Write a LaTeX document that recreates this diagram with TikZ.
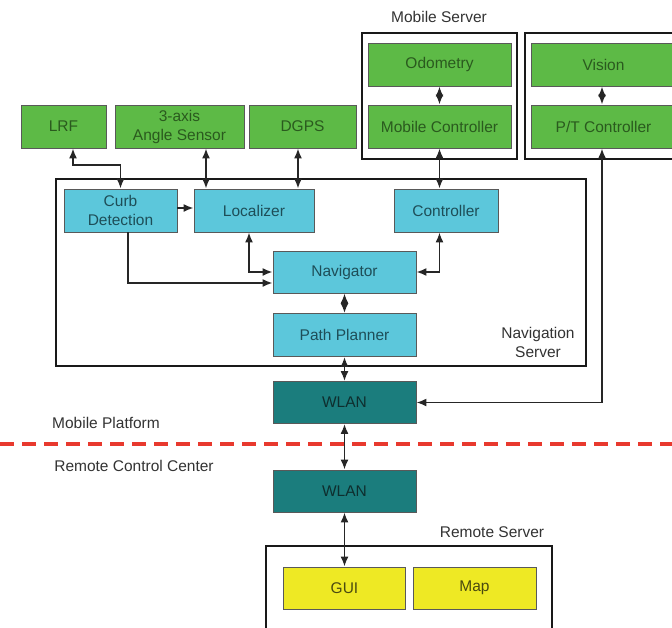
\documentclass[tikz,border=0pt]{standalone}
\usepackage{fontspec}
\setmainfont{Liberation Sans}
\usetikzlibrary{arrows.meta}
\definecolor{gbox}{HTML}{5DBA46}
\definecolor{gtext}{HTML}{2A5A1E}
\definecolor{cbox}{HTML}{5CC7DB}
\definecolor{ctext}{HTML}{1E4E58}
\definecolor{tbox}{HTML}{1B7D7D}
\definecolor{ttext}{HTML}{0E2E2E}
\definecolor{ybox}{HTML}{EEE924}
\definecolor{ytext}{HTML}{4A4A10}
\definecolor{lbl}{HTML}{333333}
\definecolor{dashred}{HTML}{E8392E}
\tikzset{
  txt/.style={font=\fontsize{15.5}{19}\selectfont, align=center},
  basebox/.style={txt, draw=black!65, line width=0.8pt, inner sep=0pt, minimum height=43pt},
  greenbox/.style={basebox, fill=gbox, text=gtext},
  cyanbox/.style={basebox, fill=cbox, text=ctext},
  tealbox/.style={basebox, fill=tbox, text=ttext},
  yellowbox/.style={basebox, fill=ybox, text=ytext},
  frame/.style={draw=black!90, line width=2.6pt},
  lab/.style={txt, text=lbl},
  tip/.style={},
  dbl/.style={line width=1.8pt, draw=black!85, {Latex[length=10pt,width=8pt]}-{Latex[length=10pt,width=8pt]}},
  one/.style={line width=1.8pt, draw=black!85, -{Latex[length=10pt,width=8pt]}},
}
\begin{document}
\begin{tikzpicture}[x=1pt,y=-1pt]
\useasboundingbox (0,0) rectangle (672,627);
\clip (0,0) rectangle (672,627);
\fill[white] (0,0) rectangle (672,627);
% frames
\draw[frame] (362,33) rectangle (517,159);
\draw[frame] (525,33) rectangle (690,159);
\draw[frame] (56,179) rectangle (586,366);
\draw[frame] (266,546) rectangle (552,650);
% labels
\node[lab] (lms) at (439,17) {Mobile Server};
\node[lab] (lns) at (538,342) {Navigation\\Server};
\node[lab] (lmp) at (106,423) {Mobile Platform};
\node[lab] (lrc) at (134,466) {Remote Control Center};
\node[lab] (lrs) at (492,532) {Remote Server};
% dashed separator
\coordinate (dl) at (0,444);
\coordinate (dr) at (672,444);
\draw[dashred, line width=3.5pt, dash pattern=on 14pt off 8pt] (dl) -- (dr);
% top sensors
\node[greenbox, minimum width=85pt] (lrf) at (63.5,126.5) {LRF};
\node[greenbox, minimum width=129pt] (axis) at (179.5,126.5) {3-axis\\Angle Sensor};
\node[greenbox, minimum width=107pt] (dgps) at (302.5,126.5) {DGPS};
\node[greenbox, minimum width=143pt] (odo) at (439.5,64.5) {Odometry};
\node[greenbox, minimum width=143pt] (mc) at (439.5,126.5) {Mobile Controller};
\node[greenbox, minimum width=145pt] (vis) at (603.5,64.5) {Vision};
\node[greenbox, minimum width=145pt] (pt) at (603.5,126.5) {P/T Controller};
% navigation server
\node[cyanbox, minimum width=113pt] (curb) at (120.5,210.5) {Curb\\Detection};
\node[cyanbox, minimum width=120pt] (loc) at (254,210.5) {Localizer};
\node[cyanbox, minimum width=104pt] (ctrl) at (446,210.5) {Controller};
\node[cyanbox, minimum width=143pt, minimum height=42pt] (nav) at (344.5,272) {Navigator};
\node[cyanbox, minimum width=143pt] (pp) at (344.5,335) {Path Planner};
% WLAN
\node[tealbox, minimum width=143pt, minimum height=42pt] (w1) at (344.5,402.5) {WLAN};
\node[tealbox, minimum width=143pt, minimum height=42pt] (w2) at (344.5,491) {WLAN};
% remote server
\node[yellowbox, minimum width=122pt, minimum height=42pt] (gui) at (344.5,588) {GUI};
\node[yellowbox, minimum width=123pt, minimum height=42pt] (map) at (474.5,588) {Map};
% helper coordinates
\coordinate (lrfbend) at (73,165);
\coordinate (xa) at (206,0);
\coordinate (xd) at (298,0);
\coordinate (yc) at (0,208);
\coordinate (cn) at (128,283);
\coordinate (xl) at (249,0);
\coordinate (xc) at (439.5,0);
\coordinate (xp) at (602,0);
% connectors
\draw[dbl] (lrf.south -| lrfbend) -- (lrfbend) -| (curb.north);
\draw[dbl] (axis.south -| xa) -- (loc.north -| xa);
\draw[dbl] (dgps.south -| xd) -- (loc.north -| xd);
\draw[one] (curb.east |- yc) -- (loc.west |- yc);
\draw[dbl] (odo.south) -- (mc.north);
\draw[dbl] (vis.south -| xp) -- (pt.north -| xp);
\draw[dbl] (mc.south) -- (ctrl.north -| xc);
\draw[dbl] (pt.south -| xp) |- (w1.east);
\draw[one] (curb.south -| cn) |- (nav.west |- cn);
\draw[dbl] (loc.south -| xl) |- (nav.west);
\draw[dbl] (ctrl.south -| xc) |- (nav.east);
\draw[dbl] (nav.south) -- (pp.north);
\draw[dbl] (pp.south) -- (w1.north);
\draw[dbl] (w1.south) -- (w2.north);
\draw[dbl] (w2.south) -- (gui.north);
\end{tikzpicture}
\end{document}
